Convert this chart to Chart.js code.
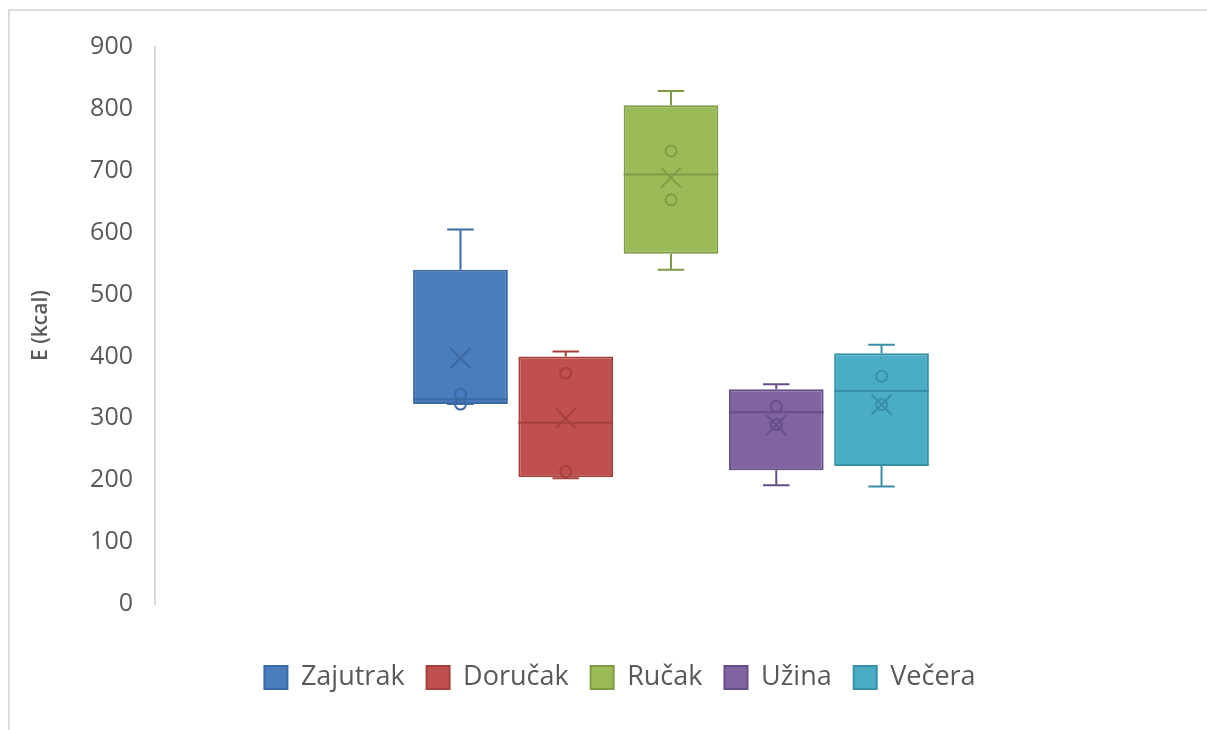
<!DOCTYPE html>
<html>
<head>
<meta charset="utf-8">
<script src="https://cdn.jsdelivr.net/npm/chart.js@4.4.0/dist/chart.umd.min.js"></script>
<style>
  body { margin: 0; background: #fff; }
  #wrap { position: relative; width: 1207px; height: 730px; }
  #frame { position: absolute; left: 8px; top: 9px; right: 0; bottom: 0;
           border-top: 2px solid #dcdcdc; border-left: 2px solid #dcdcdc; }
  canvas { position: absolute; left: 0; top: 0; }
</style>
</head>
<body>
<div id="wrap">
  <div id="frame"></div>
  <canvas id="boxChart" width="1207" height="730"></canvas>
</div>
<script>
// Box plot data (kcal)
const meals = ['Zajutrak', 'Doručak', 'Ručak', 'Užina', 'Večera'];
const mins = [323, 203, 540, 192, 190];
const q1s = [323, 205, 566, 216, 223];
const medians = [331, 293, 694, 310, 344];
const q3s = [540, 400, 806, 347, 405];
const maxs = [605, 408, 829, 355, 419];
const means = [397, 300, 689, 289, 322];
const innerPoints = [[339, 323], [373, 214], [732, 653], [319, 290], [368, 322]];
const yTicks = [0, 100, 200, 300, 400, 500, 600, 700, 800, 900];

const fills = ['#4a7dbd', '#c0504d', '#9bbb59', '#8064a2', '#4bacc6'];
const lines = ['#3b69a3', '#a5403d', '#7e9c45', '#654e87', '#3790a8'];

// whiskers, median, mean and points drawn on top of the floating bars
const boxPlot = {
    id: 'boxPlot',
    afterDatasetsDraw(chart) {
        const ctx = chart.ctx;
        const y = chart.scales.y;
        meals.forEach((m, i) => {
            const bar = chart.getDatasetMeta(i).data[0];
            const x = bar.x;
            const cap = bar.width * 0.14;
            ctx.save();
            ctx.strokeStyle = lines[i];
            ctx.lineWidth = 2;
            ctx.beginPath();
            // upper whisker
            ctx.moveTo(x, y.getPixelForValue(q3s[i]));
            ctx.lineTo(x, y.getPixelForValue(maxs[i]));
            ctx.moveTo(x - cap, y.getPixelForValue(maxs[i]));
            ctx.lineTo(x + cap, y.getPixelForValue(maxs[i]));
            // lower whisker
            ctx.moveTo(x, y.getPixelForValue(q1s[i]));
            ctx.lineTo(x, y.getPixelForValue(mins[i]));
            ctx.moveTo(x - cap, y.getPixelForValue(mins[i]));
            ctx.lineTo(x + cap, y.getPixelForValue(mins[i]));
            // median
            ctx.moveTo(bar.x - bar.width / 2, y.getPixelForValue(medians[i]));
            ctx.lineTo(bar.x + bar.width / 2, y.getPixelForValue(medians[i]));
            ctx.stroke();
            // mean marker
            const my = y.getPixelForValue(means[i]);
            ctx.beginPath();
            ctx.moveTo(x - 10, my - 10);
            ctx.lineTo(x + 10, my + 10);
            ctx.moveTo(x + 10, my - 10);
            ctx.lineTo(x - 10, my + 10);
            ctx.stroke();
            // inner points
            innerPoints[i].forEach((v) => {
                ctx.beginPath();
                ctx.arc(x, y.getPixelForValue(v), 5.5, 0, Math.PI * 2);
                ctx.stroke();
            });
            ctx.restore();
        });
    }
};

const ctx = document.getElementById('boxChart').getContext('2d');
const boxChart = new Chart(ctx, {
    type: 'bar',
    data: {
        labels: [''],
        datasets: meals.map((m, i) => ({
            label: m,
            data: [[q1s[i], q3s[i]]],
            backgroundColor: fills[i],
            borderColor: lines[i],
            borderWidth: 2,
            borderSkipped: false,
        }))
    },
    options: {
        responsive: false,
        animation: false,
        categoryPercentage: 0.51,
        barPercentage: 0.9,
        layout: {
            padding: { top: 47, right: 20, bottom: 29, left: 53 }
        },
        scales: {
            x: {
                grid: { display: false },
                border: { display: false },
                ticks: { display: false },
                afterFit: (scale) => { scale.height = 38; },
            },
            y: {
                min: 0,
                max: 900,
                afterBuildTicks: (scale) => { scale.ticks = yTicks.map((v) => ({ value: v })); },
                grid: { display: false, drawTicks: false },
                border: { display: true, color: '#d9d9d9', width: 2 },
                ticks: {
                    color: '#595959',
                    padding: 22,
                    font: { family: 'Open Sans', size: 25 },
                },
                title: {
                    display: true,
                    text: 'E (kcal)',
                    color: '#595959',
                    padding: { top: -25, bottom: 0 },
                    font: { family: 'Open Sans', size: 21, weight: '600' },
                },
                afterFit: (scale) => { scale.width = 102; },
            },
        },
        plugins: {
            legend: {
                position: 'bottom',
                labels: {
                    color: '#595959',
                    boxWidth: 23,
                    boxHeight: 23,
                    padding: 22,
                    font: { family: 'Open Sans', size: 27 },
                },
            },
            tooltip: { enabled: false },
        },
    },
    plugins: [boxPlot],
});
</script>
</body>
</html>
